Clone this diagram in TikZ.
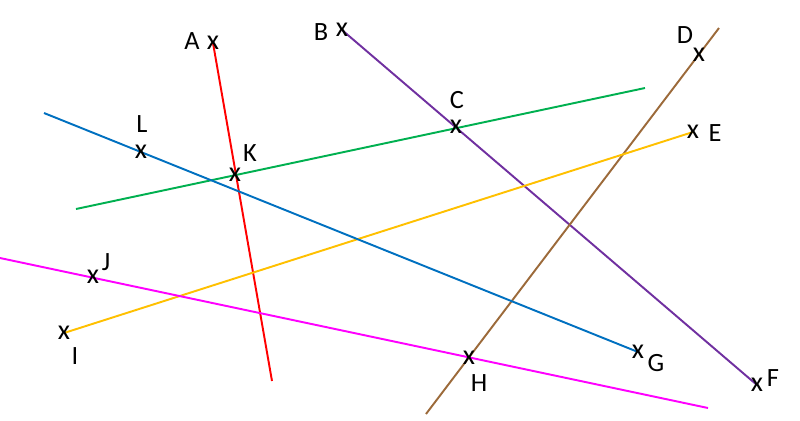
\documentclass[tikz,border=0pt]{standalone}
\usepackage{fontspec}
\setmainfont{Carlito}
\usetikzlibrary{positioning}
\definecolor{cRED}{HTML}{FF0000}
\definecolor{cPUR}{HTML}{7030A0}
\definecolor{cBRN}{HTML}{9C6A3A}
\definecolor{cGRN}{HTML}{00B050}
\definecolor{cORG}{HTML}{FFC000}
\definecolor{cBLU}{HTML}{0070C0}
\definecolor{cMAG}{HTML}{FF00FF}

\begin{document}
\begin{tikzpicture}[x=0.2mm, y=-0.2mm, font=\fontsize{15}{17}\selectfont,
  mk/.style={inner sep=0pt, font=\fontsize{16}{18}\selectfont}, lbl/.style={inner sep=0pt}, ln/.style={line width=1.1pt}]
\useasboundingbox (0,0) rectangle (800,420);
% points
\coordinate (a) at (213,43);
\coordinate (b) at (342,30);
\coordinate (c) at (456,127);
\coordinate (d) at (699,55);
\coordinate (e) at (693,132);
\coordinate (f) at (757,385);
\coordinate (g) at (638,352);
\coordinate (h) at (469,358);
\coordinate (i) at (64,333);
\coordinate (j) at (93,277);
\coordinate (k) at (235,175);
\coordinate (l) at (141,152);
% free ends
\coordinate (r1) at (272,381);
\coordinate (br0) at (719,28);
\coordinate (br1) at (426,414);
\coordinate (gr0) at (76,209);
\coordinate (gr1) at (645,88);
\coordinate (bl0) at (44,113);
\coordinate (mg0) at (0,258);
\coordinate (mg1) at (708,408);
% lines
\draw[ln, cRED] (a) -- (r1);
\draw[ln, cPUR] (b) -- (f);
\draw[ln, cBRN] (br0) -- (br1);
\draw[ln, cGRN] (gr0) -- (gr1);
\draw[ln, cORG] (i) -- (e);
\draw[ln, cBLU] (bl0) -- (g);
\draw[ln, cMAG] (mg0) -- (mg1);
% marks and labels
\foreach \p in {a,b,c,d,e,f,g,h,i,j,k,l} \node[mk] (m\p) at (\p) {x};
\node[lbl] (lA) at (192,41) {A};
\node[lbl] (lB) at (321,32) {B};
\node[lbl] (lC) at (457,100) {C};
\node[lbl] (lD) at (685,35) {D};
\node[lbl] (lE) at (715,133) {E};
\node[lbl] (lF) at (773,378) {F};
\node[lbl] (lG) at (656,363) {G};
\node[lbl] (lH) at (479,383) {H};
\node[lbl] (lI) at (75,356) {I};
\node[lbl] (lJ) at (106,262) {J};
\node[lbl] (lK) at (250,153) {K};
\node[lbl] (lL) at (142,124) {L};
\end{tikzpicture}
\end{document}
